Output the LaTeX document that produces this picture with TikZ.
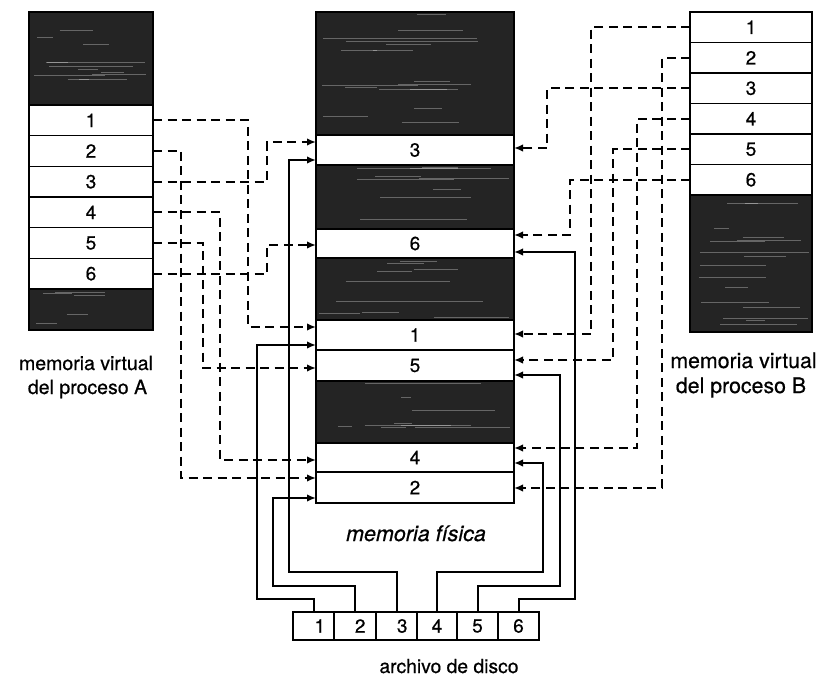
\documentclass[tikz,border=0pt]{standalone}
\usepackage{fontspec}
\setmainfont{TeX Gyre Heros}[FakeBold=0.6]
\usetikzlibrary{arrows.meta}
\newcommand\grain[5]{%
  \foreach \k in {1,...,#5}{%
    \pgfmathsetmacro\yy{#2+2+rnd*(#4-#2-4)}%
    \pgfmathsetmacro\xa{#1+2+rnd*(#3-#1)*0.6}%
    \pgfmathsetmacro\xb{\xa+8+rnd*(#3-\xa-10)}%
    \draw[white,opacity=0.3,line width=0.8pt] (\xa,\yy) -- (\xb,\yy);
  }}
\begin{document}
\begin{tikzpicture}[x=1pt,y=-1pt,
  every node/.style={inner sep=0pt, outer sep=0pt},
  cell/.style={draw, line width=1.4pt, fill=white, font=\fontsize{19}{22}\selectfont},
  dark/.style={draw, line width=1.4pt, fill=black!86},
  dsh/.style={line width=2pt, dash pattern=on 9pt off 5.5pt, -{Latex[length=9pt,width=7.5pt]}},
  sol/.style={line width=2pt, -{Latex[length=9pt,width=7.5pt]}},
  lblA/.style={font=\fontsize{19.5}{24}\selectfont, anchor=base},
  lblB/.style={font=\fontsize{21.3}{24}\selectfont, anchor=base}
]
\pgfmathsetseed{11}
\useasboundingbox (0,0) rectangle (824,679);

% ---------- process A ----------
\node[dark, minimum width=124pt, minimum height=93pt] (aT) at (91,58.5) {};
\node[cell, minimum width=124pt, minimum height=30.67pt] (a1) at (91,120.33) {1};
\node[cell, minimum width=124pt, minimum height=30.67pt] (a2) at (91,151) {2};
\node[cell, minimum width=124pt, minimum height=30.67pt] (a3) at (91,181.67) {3};
\node[cell, minimum width=124pt, minimum height=30.67pt] (a4) at (91,212.33) {4};
\node[cell, minimum width=124pt, minimum height=30.67pt] (a5) at (91,243) {5};
\node[cell, minimum width=124pt, minimum height=30.67pt] (a6) at (91,273.67) {6};
\node[dark, minimum width=124pt, minimum height=41pt] (aB) at (91,309.5) {};
\grain{29}{12}{153}{105}{12}
\grain{29}{289}{153}{330}{5}

% ---------- physical memory ----------
\node[dark, minimum width=198pt, minimum height=123pt] (pS1) at (415,73.5) {};
\node[cell, minimum width=198pt, minimum height=30pt] (p3) at (415,150) {3};
\node[dark, minimum width=198pt, minimum height=64pt] (pS2) at (415,197) {};
\node[cell, minimum width=198pt, minimum height=29pt] (p6) at (415,243.5) {6};
\node[dark, minimum width=198pt, minimum height=62pt] (pS3) at (415,289) {};
\node[cell, minimum width=198pt, minimum height=30pt] (p1) at (415,335) {1};
\node[cell, minimum width=198pt, minimum height=31pt] (p5) at (415,365.5) {5};
\node[dark, minimum width=198pt, minimum height=62pt] (pS4) at (415,412) {};
\node[cell, minimum width=198pt, minimum height=29pt] (p4) at (415,457.5) {4};
\node[cell, minimum width=198pt, minimum height=31pt] (p2) at (415,487.5) {2};
\grain{316}{12}{514}{135}{16}
\grain{316}{165}{514}{229}{9}
\grain{316}{258}{514}{320}{9}
\grain{316}{381}{514}{443}{9}

% ---------- process B ----------
\node[cell, minimum width=122pt, minimum height=30.5pt] (b1) at (751,27.25) {1};
\node[cell, minimum width=122pt, minimum height=30.5pt] (b2) at (751,57.75) {2};
\node[cell, minimum width=122pt, minimum height=30.5pt] (b3) at (751,88.25) {3};
\node[cell, minimum width=122pt, minimum height=30.5pt] (b4) at (751,118.75) {4};
\node[cell, minimum width=122pt, minimum height=30.5pt] (b5) at (751,149.25) {5};
\node[cell, minimum width=122pt, minimum height=30.5pt] (b6) at (751,179.75) {6};
\node[dark, minimum width=122pt, minimum height=137pt] (bS) at (751,263.5) {};
\grain{690}{195}{812}{332}{16}

% ---------- disk file ----------
\node[cell, minimum width=41pt, minimum height=28pt] (d1) at (313.5,626) {\makebox[41pt][r]{1\hspace{9pt}}};
\node[cell, minimum width=42pt, minimum height=28pt] (d2) at (355,626) {\makebox[42pt][r]{2\hspace{10.5pt}}};
\node[cell, minimum width=41pt, minimum height=28pt] (d3) at (396.5,626) {\makebox[41pt][r]{3\hspace{9.5pt}}};
\node[cell, minimum width=40pt, minimum height=28pt] (d4) at (437,626) {4};
\node[cell, minimum width=41pt, minimum height=28pt] (d5) at (477.5,626) {5};
\node[cell, minimum width=41pt, minimum height=28pt] (d6) at (518.5,626) {6};

% ---------- labels ----------
\node[lblA] (lA1) at (86,370) {memoria virtual};
\node[lblA] (lA2) at (87.5,394) {del proceso A};
\node[lblB] (lB1) at (743.5,368) {memoria virtual};
\node[lblB] (lB2) at (741,393) {del proceso B};
\node[font=\fontsize{21.5}{24}\selectfont\itshape, anchor=base] (lP) at (416,541) {memoria física};
\node[font=\fontsize{19.3}{24}\selectfont, anchor=base] (lD) at (449,673) {archivo de disco};

% ---------- process A mappings ----------
\draw[dsh] (a1.east) -- ++(95,0)  |- ([yshift=8pt]p1.west);
\draw[dsh] (a2.east) -- ++(28,0)  |- ([yshift=9.5pt]p2.west);
\draw[dsh] (a3.east) -- ++(114,0) |- ([yshift=8pt]p3.west);
\draw[dsh] (a4.east) -- ++(67,0)  |- ([yshift=-2.5pt]p4.west);
\draw[dsh] (a5.east) -- ++(50,0)  |- ([yshift=-2.5pt]p5.west);
\draw[dsh] (a6.east) -- ++(114,0) |- ([yshift=-1.5pt]p6.west);

% ---------- process B mappings ----------
\draw[dsh] (b1.west) -- ++(-99,0)  |- ([yshift=1pt]p1.east);
\draw[dsh] (b2.west) -- ++(-28,0)  |- ([yshift=-0.5pt]p2.east);
\draw[dsh] (b3.west) -- ++(-143,0) |- ([yshift=2pt]p3.east);
\draw[dsh] (b4.west) -- ++(-53,0)  |- ([yshift=9.5pt]p4.east);
\draw[dsh] (b5.west) -- ++(-77,0)  |- ([yshift=5.5pt]p5.east);
\draw[dsh] (b6.west) -- ++(-120,0) |- ([yshift=8.5pt]p6.east);

% ---------- disk blocks to frames ----------
\draw[sol] (d1.north) -- ++(0,-13) -- ++(-56.5,0) |- ([yshift=-10pt]p1.west);
\draw[sol] (d2.north) -- ++(0,-26) -- ++(-82,0)   |- ([yshift=-10.5pt]p2.west);
\draw[sol] (d3.north) -- ++(0,-40) -- ++(-107.5,0) |- ([yshift=-10pt]p3.west);
\draw[sol] (d4.north) -- ++(0,-40) -- ++(106,0)   |- ([yshift=-5.5pt]p4.east);
\draw[sol] (d5.north) -- ++(0,-26) -- ++(82.5,0)  |- ([yshift=-9.5pt]p5.east);
\draw[sol] (d6.north) -- ++(0,-13) -- ++(56.5,0)  |- ([yshift=-8.5pt]p6.east);
\end{tikzpicture}
\end{document}
